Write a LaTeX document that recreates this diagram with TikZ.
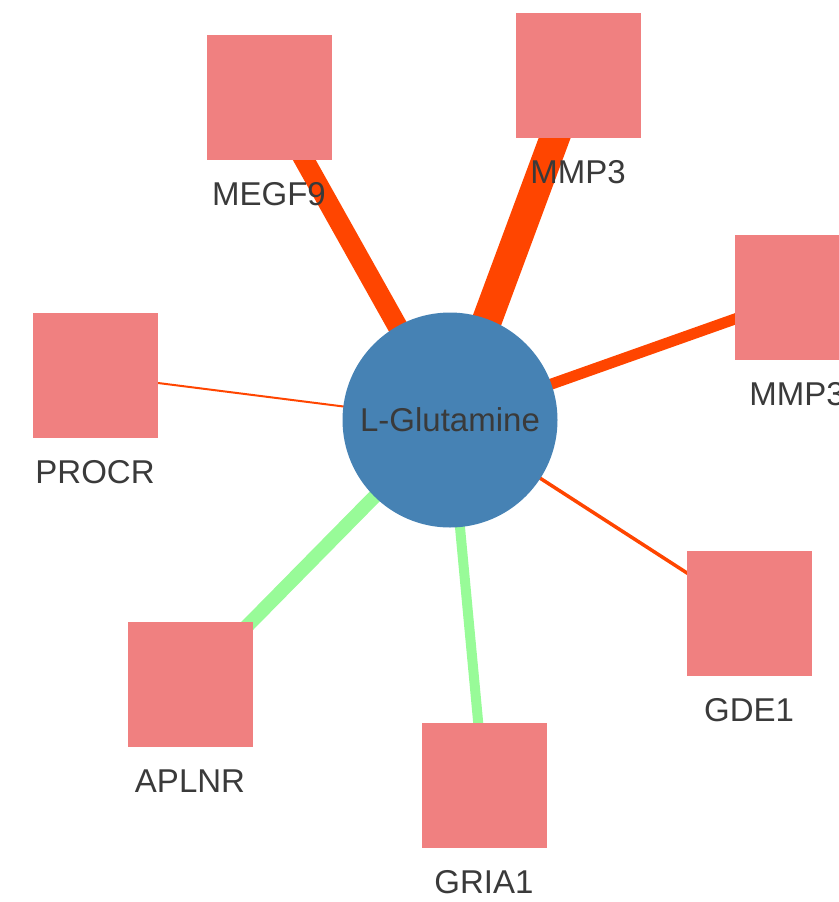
\documentclass[tikz,border=0pt]{standalone}
\usepackage{fontspec}
\setmainfont{Liberation Sans}
\usetikzlibrary{backgrounds}
\definecolor{genered}{HTML}{F08080}
\definecolor{drugblue}{HTML}{4682B4}
\definecolor{linkred}{HTML}{FF4500}
\definecolor{linkgreen}{HTML}{98FB98}
\definecolor{labelgray}{HTML}{3A3A3A}

\begin{document}
\begin{tikzpicture}
 [x=1pt, y=-1pt,
  drug node/.style={circle, fill=drugblue, minimum size=215pt, inner sep=0pt, text=labelgray, font=\fontsize{33}{40}\selectfont},
  gene node/.style={rectangle, fill=genered, minimum size=125pt, inner sep=0pt},
  gene label/.style={node distance=97pt, inner sep=0pt, text=labelgray, font=\fontsize{33}{40}\selectfont},
  up link/.style={linkred, line width=#1},
  down link/.style={linkgreen, line width=#1}]

\useasboundingbox (0,0) rectangle (838,902);

\node[drug node] (glut) at (450,420) {L-Glutamine};

\node[gene node] (megf9) at (269,97) {};
\node[gene node] (mmp3a) at (578,75) {};
 \node[gene node] (mmp3b) at (797,297) {};
\node[gene node] (procr) at (95,375) {};
\node[gene node] (aplnr) at (190,684) {};
 \node[gene node] (gria1) at (484,785) {};
\node[gene node] (gde1) at (749,613) {};

\node[gene label] (megf9 lbl) [below of=megf9] {MEGF9};
\node[gene label] (mmp3a lbl) [below of=mmp3a] {MMP3};
\node[gene label] (mmp3b lbl) [below of=mmp3b] {MMP3};
\node[gene label] (procr lbl) [below of=procr] {PROCR};
\node[gene label] (aplnr lbl) [below of=aplnr] {APLNR};
\node[gene label] (gria1 lbl) [below of=gria1] {GRIA1};
\node[gene label] (gde1 lbl) [below of=gde1] {GDE1};

\begin{scope}[on background layer]
\path
  (glut.center) edge [up link=20pt] (megf9.center)
  (glut.center) edge [up link=30pt] (mmp3a.center)
  (glut.center) edge [up link=11pt] (mmp3b.center)
  (glut.center) edge [up link=2pt] (procr.center)
  (glut.center) edge [up link=3.5pt] (gde1.center)

  (glut.center) edge [down link=14pt] (aplnr.center)
  (glut.center) edge [down link=10pt] (gria1.center);
\end{scope}

\end{tikzpicture}
\end{document}
